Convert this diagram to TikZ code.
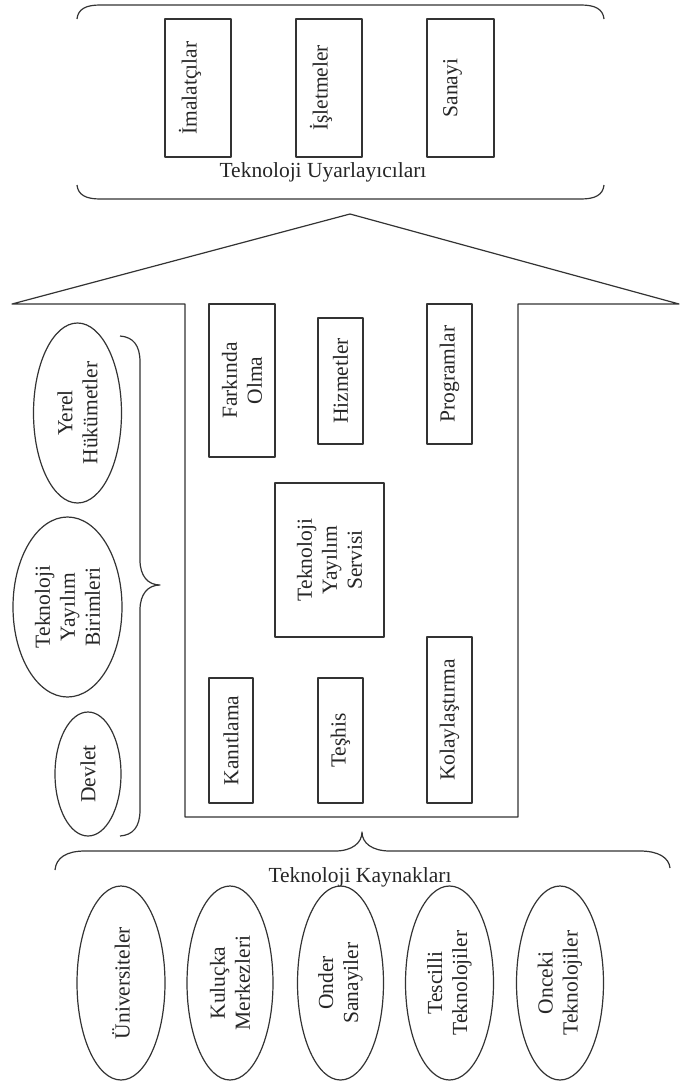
\documentclass[tikz,border=0pt]{standalone}
\usepackage{fontspec}
\setmainfont{Liberation Serif}
\usetikzlibrary{shapes.geometric}
\begin{document}
\begin{tikzpicture}[x=1pt,y=-1pt,
  ln/.style={draw=black!80, line width=1.2pt, line join=round},
  txt/.style={font=\fontsize{21.5}{25}\selectfont, text=black!85},
  % sz={screen width}{screen height} for nodes turned by 90 degrees
  sz/.style 2 args={minimum height=#1pt, minimum width=#2pt},
  vbox/.style={ln, txt, rectangle, rotate=90, inner sep=0pt, align=center},
  oval/.style={ln, txt, ellipse, rotate=90, inner sep=0pt, align=center},
  caption/.style={txt, inner sep=0pt}]
\useasboundingbox (0,0) rectangle (681,1082);

% ---- upper bracket: technology adopters ----
\draw[ln] (77,19) .. controls (78,9) and (86,5) .. (100,5) -- (581,5)
          .. controls (595,5) and (603,9) .. (604,19);
\draw[ln] (77,185) .. controls (78,195) and (86,199) .. (100,199) -- (581,199)
          .. controls (595,199) and (603,195) .. (604,185);
\newcommand\upshift[1]{\raisebox{8pt}[\height][\depth]{#1}}
\node[vbox, sz={66}{138}] (imal) at (198,88)   {\upshift{İmalatçılar}};
\node[vbox, sz={66}{138}] (isle) at (329,88)   {\upshift{İşletmeler}};
\node[vbox, sz={67}{138}] (sana) at (460.5,88) {\upshift{Sanayi}};
\node[caption] (uyar) at (323,172) {Teknoloji Uyarlayıcıları};

% ---- arrow-shaped frame ----
\draw[ln] (185,817) -- (185,304) -- (12,304) -- (350,214) -- (679,304)
          -- (518,304) -- (518,817) -- cycle;

% ---- service elements ----
\node[vbox, sz={66}{153}]  (fark) at (242,380.5)   {Farkında\\Olma};
\node[vbox, sz={45}{126}]  (hizm) at (340.5,381)   {Hizmetler};
\node[vbox, sz={45}{140}]  (prog) at (449.5,374)   {Programlar};
\node[vbox, sz={109}{154}] (serv) at (329.5,560)   {Teknoloji\\Yayılım\\Servisi};
\node[vbox, sz={44}{125}]  (kanit) at (231,740.5)  {Kanıtlama};
\node[vbox, sz={45}{125}]  (teshis) at (340.5,740.5) {Teşhis};
\node[vbox, sz={45}{166}]  (kolay) at (449.5,720)  {Kolaylaştırma};

% ---- diffusion agents on the left ----
\node[oval, sz={88}{180}]  (yerel) at (77.5,413) {Yerel\\Hükümetler};
\node[oval, sz={109}{180}] (birim) at (67.5,607) {Teknoloji\\Yayılım\\Birimleri};
\node[oval, sz={66}{124}]  (devlet) at (88,774)  {Devlet};
\draw[ln] (120,336) .. controls (133,337) and (140,345) .. (140,362) -- (140,560)
          .. controls (140,576) and (148,585) .. (160,585)
          .. controls (148,585) and (140,594) .. (140,610) -- (140,810)
          .. controls (140,827) and (133,835) .. (120,836);

% ---- technology sources at the bottom ----
\draw[ln] (55,870) .. controls (56,858) and (66,851) .. (85,851) -- (335,851)
          .. controls (352,851) and (362,843) .. (362,832)
          .. controls (362,843) and (372,851) .. (390,851) -- (640,851)
          .. controls (659,851) and (669,858) .. (670,868);
\node[caption] (kayn) at (360,877) {Teknoloji Kaynakları};
\node[oval, sz={88}{194}] (univ) at (121,983)   {Üniversiteler};
\node[oval, sz={86}{194}] (kulu) at (230,983)   {Kuluçka\\Merkezleri};
\node[oval, sz={86}{194}] (onder) at (340.5,983) {Onder\\Sanayiler};
\node[oval, sz={88}{194}] (tesc) at (449.5,983) {Tescilli\\Teknolojiler};
\node[oval, sz={87}{194}] (once) at (560,983)   {Onceki\\Teknolojiler};
\end{tikzpicture}
\end{document}
